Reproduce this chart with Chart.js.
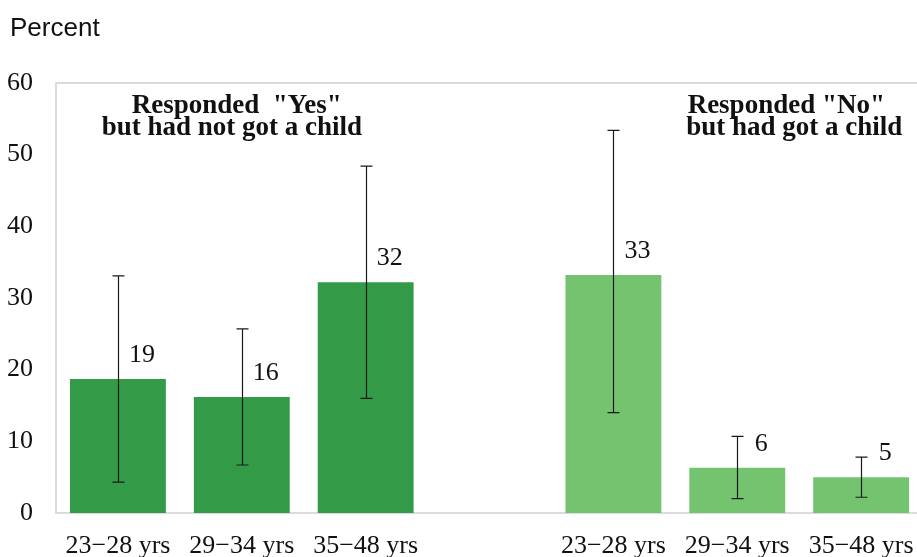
<!DOCTYPE html>
<html>
<head>
<meta charset="utf-8">
<script src="https://cdn.jsdelivr.net/npm/chart.js@4/dist/chart.umd.min.js"></script>
<style>
  html, body { margin: 0; padding: 0; background: #ffffff; }
  #wrap { width: 917px; height: 557px; overflow: hidden; position: relative; }
  canvas { display: block; }
</style>
</head>
<body>
<div id="wrap"><canvas id="chart" width="931" height="580" style="width:931px;height:580px"></canvas></div>
<script>
// Age bands for the two respondent groups; the empty slot separates the groups.
const categories = ['23\u221228 yrs', '29\u221234 yrs', '35\u221248 yrs', '', '23\u221228 yrs', '29\u221234 yrs', '35\u221248 yrs'];
const groupOf = ['yes', 'yes', 'yes', null, 'no', 'no', 'no'];

// Share (%) and confidence interval bounds for each bar.
const percentValues = [18.7, 16.2, 32.2, null, 33.2, 6.3, 5.0];
const lowerBounds   = [4.3, 6.7, 16.0, null, 14.0, 2.0, 2.2];
const upperBounds   = [33.1, 25.7, 48.4, null, 53.4, 10.7, 7.8];

const yTicks = [0, 10, 20, 30, 40, 50, 60];
const yAxisTitle = 'Percent';

// Group headings: lines of text and the category they sit over
const groupTitles = [
  { lines: ['Responded  "Yes"', 'but had not got a child'], anchor: 1 },
  { lines: ['Responded "No"', 'but had got a child'], anchor: 5 }
];

const groupColors = { yes: '#339b48', no: '#74c46f' };
const SERIF = '"Liberation Serif", "Times New Roman", Times, serif';
const SANS = '"Liberation Sans", Arial, Helvetica, sans-serif';

// Light grey frame (left, top and baseline) around the plotting area
const framePlugin = {
  id: 'frame',
  beforeDatasetsDraw(chart) {
    const { ctx, chartArea: a } = chart;
    ctx.save();
    ctx.strokeStyle = '#d0d0d0';
    ctx.lineWidth = 1.5;
    ctx.beginPath();
    ctx.moveTo(chart.width, a.top);
    ctx.lineTo(a.left, a.top);
    ctx.lineTo(a.left, a.bottom);
    ctx.lineTo(chart.width, a.bottom);
    ctx.stroke();
    ctx.restore();
  }
};

// Confidence interval whiskers with caps
const errorBarPlugin = {
  id: 'errorBars',
  afterDatasetsDraw(chart) {
    const { ctx } = chart;
    const y = chart.scales.y;
    const meta = chart.getDatasetMeta(0);
    ctx.save();
    ctx.strokeStyle = '#1a1a1a';
    ctx.lineWidth = 1.2;
    meta.data.forEach((bar, i) => {
      if (lowerBounds[i] == null || upperBounds[i] == null) return;
      const x = Math.round(bar.x) + 0.5;
      const yTop = y.getPixelForValue(upperBounds[i]);
      const yBot = y.getPixelForValue(lowerBounds[i]);
      const cap = 6;
      ctx.beginPath();
      ctx.moveTo(x, yTop); ctx.lineTo(x, yBot);
      ctx.moveTo(x - cap, yTop); ctx.lineTo(x + cap, yTop);
      ctx.moveTo(x - cap, yBot); ctx.lineTo(x + cap, yBot);
      ctx.stroke();
    });
    ctx.restore();
  }
};

// Rounded value labels beside each bar top
const valueLabelPlugin = {
  id: 'valueLabels',
  afterDatasetsDraw(chart) {
    const { ctx } = chart;
    const meta = chart.getDatasetMeta(0);
    ctx.save();
    ctx.fillStyle = '#111111';
    ctx.font = '26px ' + SERIF;
    ctx.textAlign = 'center';
    ctx.textBaseline = 'alphabetic';
    meta.data.forEach((bar, i) => {
      const v = percentValues[i];
      if (v == null) return;
      ctx.fillText(String(Math.round(v)), bar.x + 24, bar.y - 17);
    });
    ctx.restore();
  }
};

// Axis title and group headings
const textPlugin = {
  id: 'texts',
  afterDraw(chart) {
    const { ctx, chartArea: a } = chart;
    const x = chart.scales.x;
    ctx.save();
    ctx.fillStyle = '#111111';
    ctx.textBaseline = 'alphabetic';
    ctx.font = '26px ' + SANS;
    ctx.textAlign = 'left';
    ctx.fillText(yAxisTitle, 10, 36);

    ctx.font = 'bold 27px ' + SERIF;
    ctx.textAlign = 'center';
    const shifts = [[-5, -10], [49, 57]];
    groupTitles.forEach((g, gi) => {
      const cx = x.getPixelForValue(g.anchor);
      g.lines.forEach((line, li) => {
        ctx.fillText(line, cx + shifts[gi][li], a.top + 30 + li * 22);
      });
    });
    ctx.restore();
  }
};

new Chart(document.getElementById('chart'), {
  type: 'bar',
  data: {
    labels: categories,
    datasets: [{
      data: percentValues,
      backgroundColor: groupOf.map(g => g ? groupColors[g] : 'rgba(0,0,0,0)'),
      borderWidth: 0,
      barPercentage: 0.774,
      categoryPercentage: 1.0
    }]
  },
  options: {
    responsive: false,
    animation: false,
    devicePixelRatio: 1,
    layout: { padding: { top: 83, left: 0, right: 0, bottom: 1 } },
    plugins: {
      legend: { display: false },
      tooltip: { enabled: false }
    },
    scales: {
      x: {
        offset: true,
        grid: { display: false, drawTicks: false },
        border: { display: false },
        ticks: {
          color: '#111111',
          font: { family: SERIF, size: 26, lineHeight: 1.2 },
          padding: 17.4,
          maxRotation: 0,
          autoSkip: false
        }
      },
      y: {
        min: 0,
        max: 60,
        afterFit(scale) { scale.width = 56; },
        afterBuildTicks(scale) { scale.ticks = yTicks.map(v => ({ value: v })); },
        grid: { display: false, drawTicks: false },
        border: { display: false },
        ticks: {
          color: '#111111',
          font: { family: SERIF, size: 26 },
          padding: 23
        }
      }
    }
  },
  plugins: [framePlugin, errorBarPlugin, valueLabelPlugin, textPlugin]
});
</script>
</body>
</html>
